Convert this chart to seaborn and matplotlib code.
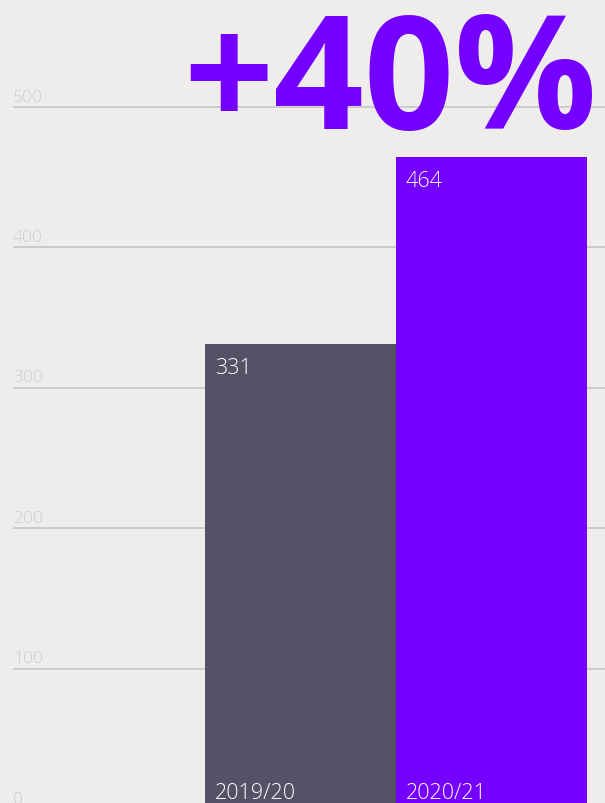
import matplotlib
matplotlib.use("Agg")
import matplotlib.pyplot as plt
import seaborn as sns
import pandas as pd

# data
seasons = ["2019/20", "2020/21"]
counts = [331, 464]
bar_colors = ["#535266", "#7400ff"]
yticks = [0, 100, 200, 300, 400, 500]

sns.set_theme(style="white")
plt.rcParams['font.family'] = ['Open Sans', 'DejaVu Sans']

bg = "#eeedeb"
W, H = 605, 804
fig = plt.figure(figsize=(W / 100, H / 100), dpi=100, facecolor=bg)

# axes placed in pixel terms: zero line sits just below the figure edge
px_per_unit = 1.405
zero_px = 810
ax = fig.add_axes([13 / W, (H - zero_px) / H, (W - 13) / W, zero_px / H])
ax.set_facecolor(bg)

df = pd.DataFrame({"season": seasons, "count": counts})
sns.barplot(data=df, x="season", y="count", hue="season", palette=bar_colors,
            width=1.0, legend=False, saturation=1, linewidth=0, ax=ax, zorder=3)

ax.set_ylim(0, zero_px / px_per_unit)
# one category unit = 191 px; left bar edge at x=205, right edge at 587
ax.set_xlim(-0.5 - 192 / 191, 1.5 + 18 / 191)

for t in yticks:
    ax.axhline(t, color="#cdcccb", lw=1.4, zorder=1)
    ax.annotate(str(t), xy=(0, t), xycoords=("axes fraction", "data"),
                xytext=(0, 2), textcoords="offset pixels",
                ha="left", va="bottom", fontsize=12.5, color="#cdcccb",
                fontweight="light")

for p, v, s in zip(ax.patches, counts, seasons):
    ax.annotate(str(v), xy=(p.get_x(), p.get_height()),
                xytext=(10, -13), textcoords="offset pixels",
                ha="left", va="top", fontsize=15.5, color="white",
                fontweight="light", zorder=5)
    ax.annotate(s, xy=(p.get_x(), 0),
                xytext=(10, 11), textcoords="offset pixels",
                ha="left", va="baseline", fontsize=15.5, color="white",
                fontweight="light", zorder=5)

change = round((counts[1] / counts[0] - 1) * 100)
fig.text(597 / W, (H - 129) / H, f"+{change}%", ha="right", va="baseline",
         fontsize=114, fontweight="bold", color="#7400ff")

ax.set_xticks([])
ax.set_yticks([])
ax.set_xlabel("")
ax.set_ylabel("")
sns.despine(ax=ax, left=True, bottom=True)

fig.savefig("out.png", dpi=100, facecolor=bg)
